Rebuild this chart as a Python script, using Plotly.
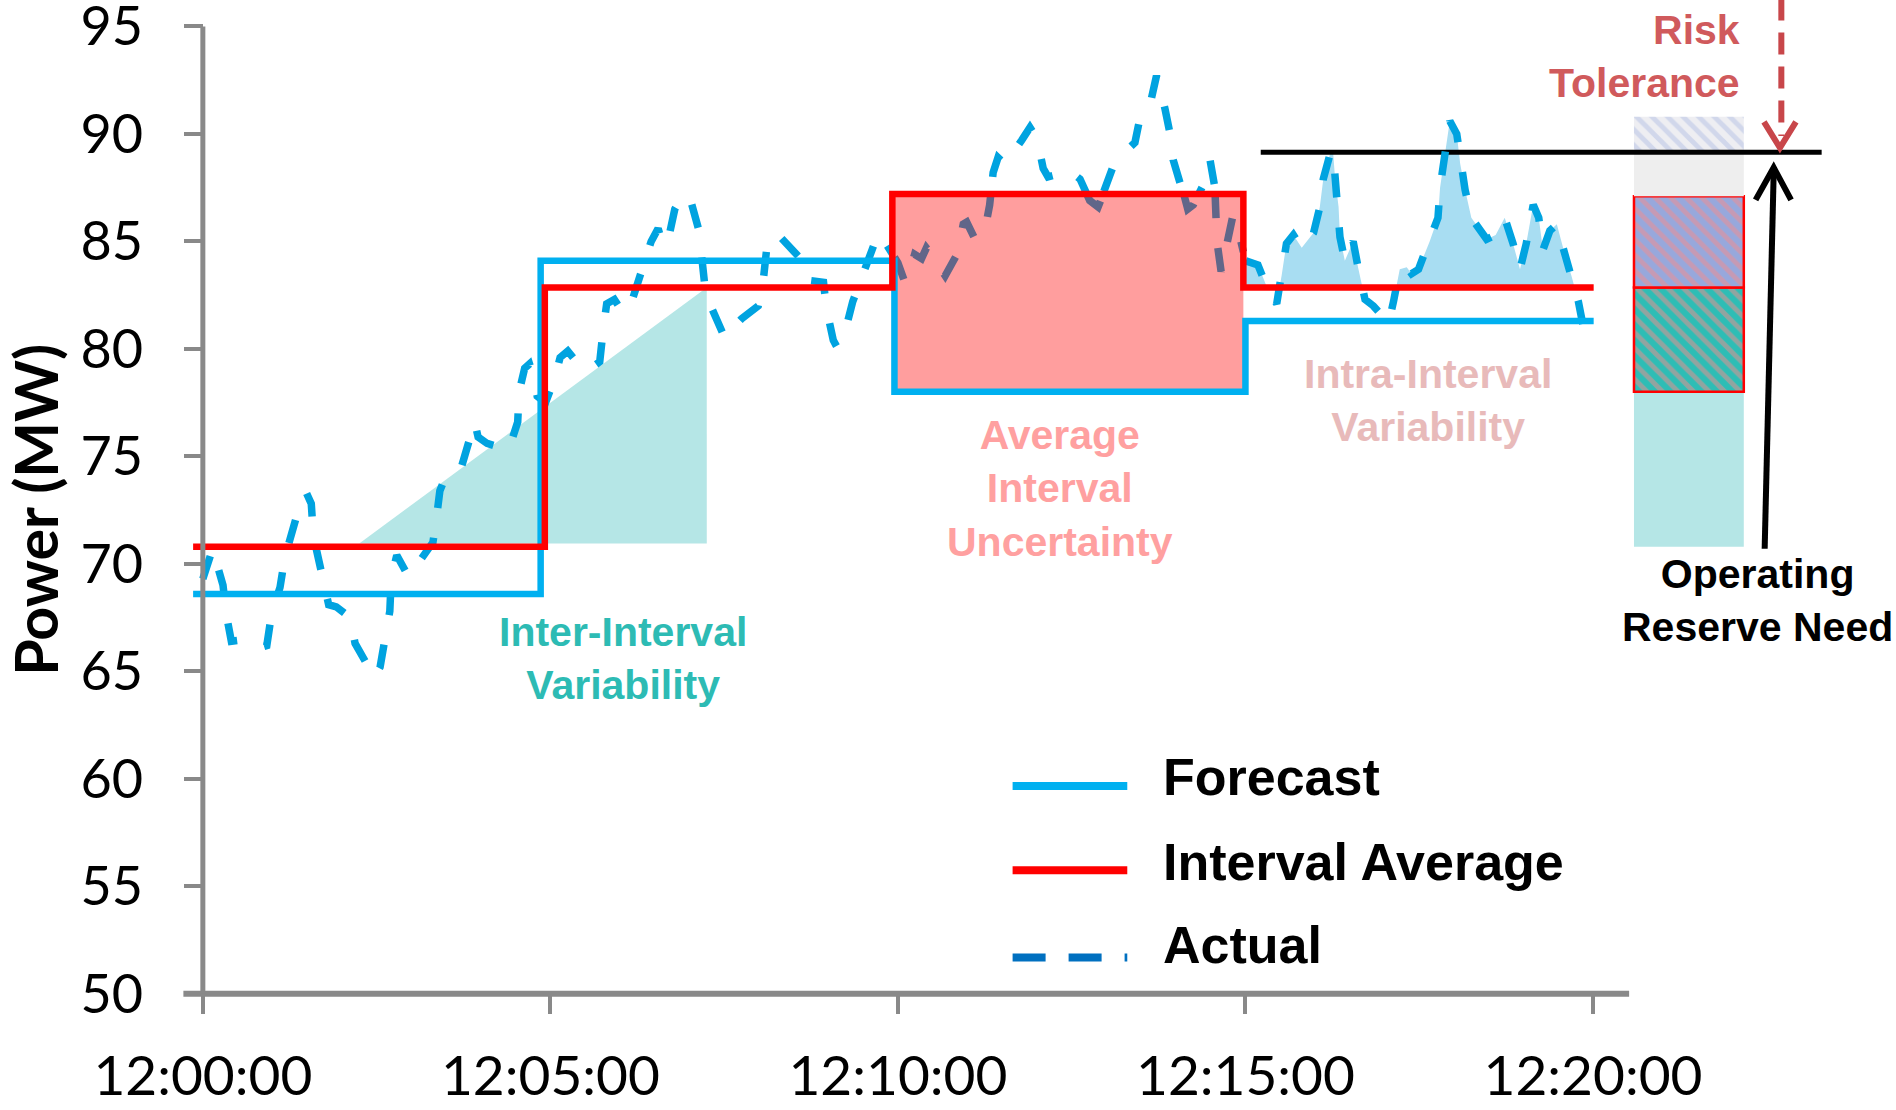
import plotly.graph_objects as go

# ---------------- data ----------------
tick_minutes = [0, 5, 10, 15, 20]
tick_labels = ["12:00:00", "12:05:00", "12:10:00", "12:15:00", "12:20:00"]
y_ticks = [50, 55, 60, 65, 70, 75, 80, 85, 90, 95]

# step lines (value holds from each time to the next)
forecast_t = [-0.14, 4.86, 9.95, 15.0, 20.01]
forecast_mw = [68.6, 84.1, 78.0, 81.3, 81.3]

avg_t = [-0.14, 4.92, 9.92, 14.97, 20.01]
avg_mw = [70.8, 82.85, 87.2, 82.85, 82.85]

actual_t = [0.00, 0.14, 0.29, 0.34, 0.41, 0.65, 0.82, 0.92, 0.99, 1.11, 1.18, 1.28, 1.40, 1.49,
            1.56, 1.59, 1.66, 1.76, 1.81, 1.92, 2.12, 2.19, 2.40, 2.47, 2.55, 2.62, 2.69, 2.71,
            2.79, 2.96, 3.12, 3.31, 3.36, 3.41, 3.51, 3.56, 3.72, 3.82, 3.91, 3.96, 4.09, 4.40,
            4.53, 4.55, 4.63, 4.70, 4.76, 4.81, 4.93, 5.06, 5.14, 5.25, 5.40, 5.54, 5.71, 5.76,
            5.81, 5.92, 6.02, 6.12, 6.19, 6.34, 6.45, 6.55, 6.62, 6.69, 6.79, 6.91, 7.01, 7.13,
            7.17, 7.22, 7.32, 7.51, 7.63, 7.75, 7.99, 8.06, 8.11, 8.23, 8.28, 8.57, 8.69, 8.93,
            8.97, 9.07, 9.12, 9.24, 9.35, 9.48, 9.62, 9.72, 9.79, 10.00, 10.10, 10.15, 10.24,
            10.34, 10.41, 10.46, 10.68, 10.85, 10.94, 10.99, 11.11, 11.25, 11.32, 11.37, 11.44,
            11.54, 11.78, 11.90, 12.00, 12.09, 12.16, 12.28, 12.36, 12.50, 12.62, 12.76, 12.88,
            13.00, 13.12, 13.41, 13.48, 13.63, 13.72, 13.84, 13.91, 13.96, 14.08, 14.17, 14.25,
            14.42, 14.49, 14.56, 14.59, 14.65, 14.74, 14.82, 14.92, 15.00, 15.18, 15.33, 15.45,
            15.52, 15.59, 15.69, 15.81, 15.98, 16.07, 16.12, 16.22, 16.26, 16.29, 16.34, 16.36,
            16.43, 16.55, 16.62, 16.72, 16.84, 16.95, 17.06, 17.13, 17.22, 17.32, 17.39, 17.49,
            17.65, 17.77, 17.80, 17.85, 17.94, 18.04, 18.09, 18.16, 18.25, 18.47, 18.60, 18.73,
            18.85, 18.95, 19.04, 19.14, 19.22, 19.28, 19.38, 19.48, 19.57, 19.69, 19.79, 19.88,
            19.98, 20.05]
actual_mw = [69.3, 70.7, 69.0, 67.6, 66.4, 66.5, 66.1, 66.2, 67.7, 68.9, 70.3, 71.4, 72.8, 73.3,
             72.8, 71.3, 70.2, 68.8, 68.1, 68.0, 67.5, 66.3, 65.1, 64.7, 65.2, 66.7, 67.8, 69.3,
             70.4, 69.4, 70.1, 71.0, 72.1, 73.4, 74.2, 74.3, 74.5, 75.7, 76.6, 75.9, 75.6, 75.3,
             76.6, 78.0, 79.1, 79.3, 78.7, 77.8, 77.5, 78.6, 79.6, 79.9, 79.3, 79.0, 79.4, 80.9,
             82.1, 82.3, 81.8, 81.7, 82.5, 83.9, 85.0, 85.6, 84.8, 85.0, 86.5, 87.2, 87.0, 85.6,
             84.5, 83.0, 81.9, 80.5, 81.0, 81.4, 82.0, 83.1, 84.6, 85.4, 85.3, 84.3, 83.2, 83.1,
             81.9, 80.4, 80.1, 80.8, 82.2, 83.4, 84.7, 85.4, 85.1, 84.0, 83.1, 83.4, 84.4,
             84.2, 84.7, 84.5, 83.4, 84.4, 85.8, 85.9, 85.1, 85.5, 86.7, 88.2, 88.9,
             88.6, 89.7, 90.3, 89.8, 88.4, 88.0, 88.1, 87.9, 88.2, 87.9, 86.9, 86.6,
             87.6, 88.7, 89.6, 90.7, 91.4, 92.7, 91.2, 90.1, 88.8, 87.6, 86.5, 86.7,
             87.8, 88.8, 87.5, 85.0, 83.6, 84.9, 86.2, 85.2, 84.1, 83.9, 82.7, 82.1,
             83.4, 84.9, 85.3, 84.7, 85.4, 86.6, 87.9, 89.1, 89.2, 87.9, 86.6, 85.2,
             84.1, 85.0, 83.8, 82.3, 82.0, 81.6, 81.2, 82.2, 83.7, 83.8, 83.5, 83.7,
             85.0, 86.1, 87.5, 88.7, 90.6, 90.0, 88.6, 87.4, 86.1, 85.1, 85.3, 86.1,
             84.9, 83.7, 84.9, 86.7, 86.1, 84.6, 85.5, 85.8, 84.7, 83.4, 82.2, 80.7,
             80.5, 80.6]

# inter-interval variability wedge
inter_t = [2.25, 7.25, 7.25]
inter_mw = [70.95, 82.85, 70.95]

# operating reserve stack
reserve_x = 21.38
reserve_base = [70.8, 78.0, 82.85, 87.1, 89.15]
reserve_top = [78.0, 82.85, 87.1, 89.15, 90.8]
reserve_names = ["Inter-Interval", "Average Interval (inter part)", "Average Interval (intra part)",
                 "Intra-Interval", "Risk Tolerance"]

threshold_mw = 89.15
threshold_t = [15.22, 23.29]

legend_names = ["Forecast", "Interval Average", "Actual"]

# ---------------- colors ----------------
C_FORECAST = "#00B0F0"
C_AVG = "#FF0000"
C_ACTUAL = "#00A3E0"
C_ACTUAL_IN = "#616689"
C_ACTUAL_LEG = "#0070C0"
C_TEAL = "#B5E6E6"
C_RECT = "#FF9E9E"
C_INTRA = "#A8DDF2"
C_AXIS = "#898989"

reserve_styles = [
    dict(bg=C_TEAL, fg=None, edge=None),
    dict(bg="#2EBDB5", fg="#F58C8C", edge="#FF0000"),
    dict(bg="#97A8DC", fg="#F58C8C", edge="#FF0000"),
    dict(bg="#EEEEEE", fg=None, edge=None),
    dict(bg="#EEEEF2", fg="#B3C0E4", edge=None),
]


def above_polygon(ts, vs, level, t0, t1):
    xs, ys = [], []
    for i in range(len(ts) - 1):
        ta, va, tb, vb = ts[i], vs[i], ts[i + 1], vs[i + 1]
        if ta < t0 or ta > t1:
            continue
        xs.append(ta)
        ys.append(max(va, level))
        if (va - level) * (vb - level) < 0:
            tc = ta + (level - va) * (tb - ta) / (vb - va)
            xs.append(tc)
            ys.append(level)
    xs += [xs[-1], xs[0], xs[0]]
    ys += [level, level, ys[0]]
    return xs, ys


def inside_runs(ts, vs, t0, t1, top):
    xs, ys = [], []
    for i in range(len(ts) - 1):
        ta, va, tb, vb = ts[i], vs[i], ts[i + 1], vs[i + 1]
        if tb <= t0 or ta >= t1:
            continue
        if va > top and vb > top:
            continue
        s0, s1 = 0.0, 1.0
        if ta < t0:
            s0 = max(s0, (t0 - ta) / (tb - ta))
        if tb > t1:
            s1 = min(s1, (t1 - ta) / (tb - ta))
        if va > top:
            s0 = max(s0, (top - va) / (vb - va))
        elif vb > top:
            s1 = min(s1, (top - va) / (vb - va))
        if s1 <= s0:
            continue
        pa = (ta + s0 * (tb - ta), va + s0 * (vb - va))
        pb = (ta + s1 * (tb - ta), va + s1 * (vb - va))
        if xs and xs[-1] is not None and abs(xs[-1] - pa[0]) < 1e-9 and abs(ys[-1] - pa[1]) < 1e-9:
            xs.append(pb[0]); ys.append(pb[1])
        else:
            if xs:
                xs.append(None); ys.append(None)
            xs += [pa[0], pb[0]]
            ys += [pa[1], pb[1]]
    return xs, ys


fig = go.Figure()

# inter-interval wedge
fig.add_trace(go.Scatter(x=inter_t + inter_t[:1], y=inter_mw + inter_mw[:1], fill="toself",
                         fillcolor=C_TEAL, mode="lines", line=dict(width=0), hoverinfo="skip"))

# intra-interval fill (actual above interval average in last interval)
ix, iy = above_polygon(actual_t, actual_mw, avg_mw[3], avg_t[3], 19.8)
fig.add_trace(go.Scatter(x=ix, y=iy, fill="toself", fillcolor=C_INTRA, mode="lines",
                         line=dict(width=0), hoverinfo="skip"))

# operating reserve stacked bar (one bar per component)
for base, top, name, st in zip(reserve_base, reserve_top, reserve_names, reserve_styles):
    marker = dict(color=st["bg"],
                  line=dict(color=st["edge"] or "rgba(0,0,0,0)", width=2.5 if st["edge"] else 0))
    if st["fg"]:
        marker["pattern"] = dict(shape="\\", fgcolor=st["fg"], bgcolor=st["bg"], size=11,
                                 solidity=0.45, fillmode="overlay")
    fig.add_trace(go.Bar(x=[reserve_x], y=[top - base], base=[base], width=[1.58], name=name,
                         marker=marker))

# reserve threshold line
fig.add_trace(go.Scatter(x=threshold_t, y=[threshold_mw] * 2, mode="lines",
                         line=dict(color="black", width=5), hoverinfo="skip"))

# actual
fig.add_trace(go.Scatter(x=actual_t, y=actual_mw, mode="lines", name="Actual",
                         line=dict(color=C_ACTUAL, width=7.5, dash="24px,30px")))

# average interval uncertainty box
rx0, rx1 = forecast_t[2], avg_t[3]
ry0, ry1 = forecast_mw[2], avg_mw[2]
fig.add_trace(go.Scatter(x=[rx0, rx1, rx1, rx0, rx0], y=[ry0, ry0, ry1, ry1, ry0], fill="toself",
                         fillcolor=C_RECT, mode="lines", line=dict(width=0), hoverinfo="skip"))

# actual inside the box (darker)
dx, dy = inside_runs(actual_t, actual_mw, rx0, rx1, ry1)
fig.add_trace(go.Scatter(x=dx, y=dy, mode="lines", connectgaps=False,
                         line=dict(color=C_ACTUAL_IN, width=7.5, dash="24px,30px"), hoverinfo="skip"))

# forecast and interval average step lines
fig.add_trace(go.Scatter(x=forecast_t, y=forecast_mw, mode="lines", line_shape="hv", name="Forecast",
                         line=dict(color=C_FORECAST, width=6.5)))
fig.add_trace(go.Scatter(x=avg_t, y=avg_mw, mode="lines", line_shape="hv", name="Interval Average",
                         line=dict(color=C_AVG, width=6.5)))

shapes = []
# axis lines
shapes.append(dict(type="line", xref="x", yref="y", x0=-0.28, x1=20.52, y0=50, y1=50,
                   line=dict(color=C_AXIS, width=6)))
shapes.append(dict(type="line", xref="x", yref="y", x0=0, x1=0, y0=50, y1=95,
                   line=dict(color=C_AXIS, width=5)))
# operating reserve arrow
shapes.append(dict(type="line", xref="x", yref="y", x0=22.47, x1=22.6, y0=70.7, y1=88.2,
                   line=dict(color="black", width=6)))
shapes.append(dict(type="path", xref="x", yref="y", path="M22.34,86.93 L22.6,88.44 L22.85,86.93",
                   line=dict(color="black", width=6)))
# risk tolerance arrow
shapes.append(dict(type="line", xref="x", yref="y", x0=22.71, x1=22.71, y0=96.3, y1=89.9,
                   line=dict(color="#C8464A", width=6, dash="22px,12px")))
shapes.append(dict(type="path", xref="x", yref="y", path="M22.46,90.56 L22.69,89.35 L22.92,90.56",
                   line=dict(color="#C8464A", width=6)))
# legend samples
leg_y = [59.67, 55.74, 51.69]
leg_styles = [dict(color=C_FORECAST, width=8), dict(color=C_AVG, width=8),
              dict(color=C_ACTUAL_LEG, width=8, dash="33px,23px")]
for yy, st in zip(leg_y, leg_styles):
    shapes.append(dict(type="line", xref="x", yref="y", x0=11.65, x1=13.3, y0=yy, y1=yy, line=st))

BOLD = dict(family="Liberation Sans, Arial, sans-serif", weight="bold")
annotations = []
for name, yy in zip(legend_names, [60.07, 56.13, 52.25]):
    annotations.append(dict(x=13.78, y=yy, xref="x", yref="y", text=name, showarrow=False,
                            xanchor="left", yanchor="middle",
                            font=dict(size=52, color="black", **BOLD)))
annotations += [
    dict(x=6.05, y=65.6, text="Inter-Interval<br>Variability", font=dict(size=41, color="#2DBBB4", **BOLD)),
    dict(x=12.33, y=73.5, text="Average<br>Interval<br>Uncertainty", font=dict(size=41, color="#FFA0A0", **BOLD)),
    dict(x=17.63, y=77.6, text="Intra-Interval<br>Variability", font=dict(size=41, color="#E8BABA", **BOLD)),
    dict(x=22.37, y=68.3, text="Operating<br>Reserve Need", font=dict(size=41, color="black", **BOLD)),
]
for a in annotations[3:]:
    a.update(xref="x", yref="y", showarrow=False, xanchor="center", yanchor="middle", align="center")
annotations.append(dict(x=22.15, y=93.6, xref="x", yref="y", text="Risk<br>Tolerance", showarrow=False,
                        xanchor="right", yanchor="middle", align="right",
                        font=dict(size=41, color="#D05A5C", **BOLD)))
annotations.append(dict(x=-0.0865, y=0.503, xref="paper", yref="paper", text="Power (MW)",
                        showarrow=False, textangle=-90, xanchor="center", yanchor="middle",
                        font=dict(family="Lato", size=59, color="black", weight="bold")))

Y_LO, Y_HI = 48.5, 96.23
X_LO, X_HI = -0.3, 24.0
fig.update_layout(
    width=1896, height=1110, autosize=False,
    margin=dict(l=182.15, r=25, t=0, b=83.75, pad=0, autoexpand=False),
    plot_bgcolor="white", paper_bgcolor="white",
    showlegend=False, barmode="overlay",
    shapes=shapes, annotations=annotations,
    xaxis=dict(range=[X_LO, X_HI], tickvals=tick_minutes, ticktext=tick_labels,
               ticks="outside", ticklen=19, tickwidth=4, tickcolor=C_AXIS,
               showgrid=False, zeroline=False, showline=False, automargin=False,
               anchor="free", position=(50 - Y_LO) / (Y_HI - Y_LO),
               tickfont=dict(family="Lato", size=55, color="black"), ticklabelstandoff=15,
               ticklabeloverflow="allow"),
    yaxis=dict(range=[Y_LO, Y_HI], tickvals=y_ticks,
               ticks="outside", ticklen=19, tickwidth=4, tickcolor=C_AXIS,
               showgrid=False, zeroline=False, showline=False, automargin=False,
               anchor="free", position=(0 - X_LO) / (X_HI - X_LO),
               tickfont=dict(family="Lato", size=54, color="black"), ticklabelstandoff=30,
               ticklabeloverflow="allow"),
)

fig.write_html("out.html", config={"displayModeBar": False},
               post_script="document.body.style.margin='0px';")
